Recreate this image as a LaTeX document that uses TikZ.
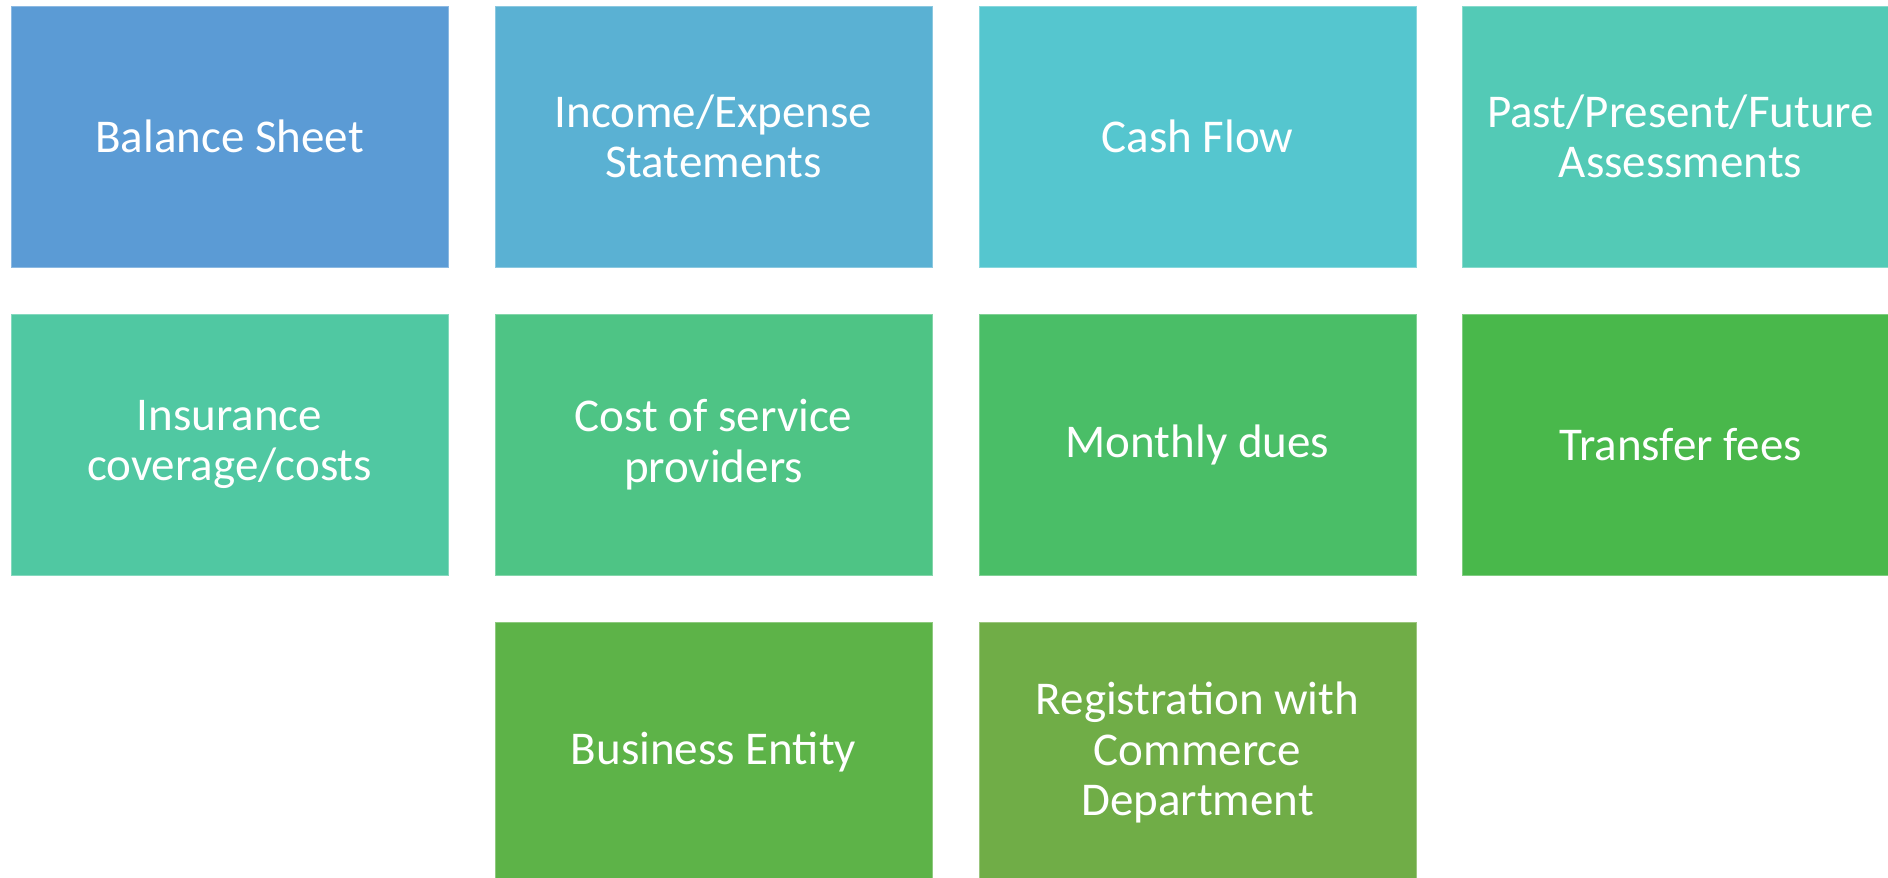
\documentclass[tikz,border=0pt]{standalone}
\usepackage{fontspec}
\setmainfont{Carlito}
\definecolor{c1}{HTML}{5B9BD5}
\definecolor{c2}{HTML}{5AB1D3}
\definecolor{c3}{HTML}{55C6CF}
\definecolor{c4}{HTML}{53CAB6}
\definecolor{c5}{HTML}{50C8A2}
\definecolor{c6}{HTML}{4EC485}
\definecolor{c7}{HTML}{4ABE67}
\definecolor{c8}{HTML}{49B84B}
\definecolor{c9}{HTML}{5DB348}
\definecolor{c10}{HTML}{70AD47}
\tikzset{
  tile/.style={draw=#1!70!white, line width=1pt, fill=#1, minimum width=437pt, minimum height=261pt,
    inner sep=0pt, text=white, align=center,
    font=\fontsize{47}{50.5}\selectfont}
}
\begin{document}
\begin{tikzpicture}[x=1pt,y=-1pt]
\useasboundingbox (0,0) rectangle (1888,878);
\begin{scope}
\clip (0,0) rectangle (1888,878);
\node[tile=c1] (bs) at (229.5,136.5) {Balance Sheet};
\node[tile=c2] (ie) at (713.5,136.5) {Income/Expense\\Statements};
\node[tile=c3] (cf) at (1197.5,136.5) {Cash Flow};
\node[tile=c4] (pa) at (1680.5,136.5) {Past/Present/Future\\Assessments};
\node[tile=c5] (ins) at (229.5,444.5) {Insurance\\coverage/costs};
\node[tile=c6] (csp) at (713.5,444.5) {Cost of service\\providers};
\node[tile=c7] (md) at (1197.5,444.5) {Monthly dues};
\node[tile=c8] (tf) at (1680.5,444.5) {Transfer fees};
\node[tile=c9] (be) at (713.5,752.5) {Business Entity};
\node[tile=c10] (rc) at (1197.5,752.5) {Registration with\\Commerce\\Department};
\end{scope}
\end{tikzpicture}
\end{document}
